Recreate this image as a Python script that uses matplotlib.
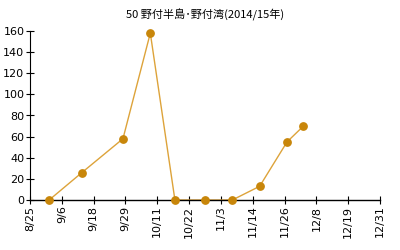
import matplotlib
matplotlib.use("Agg")
import matplotlib.pyplot as plt
import matplotlib.dates as mdates
import numpy as np
import pandas as pd

plt.rcParams['font.family'] = ['Noto Sans CJK JP', 'DejaVu Sans']

title = "50 野付半島･野付湾(2014/15年)"
dates = ["2014-09-01", "2014-09-13", "2014-09-28", "2014-10-08", "2014-10-17",
         "2014-10-28", "2014-11-07", "2014-11-17", "2014-11-27", "2014-12-03"]
values = [0, 26, 58, 158, 0, 0, 0, 13, 55, 70]
xtick_labels = ["8/25", "9/6", "9/18", "9/29", "10/11", "10/22", "11/3",
                "11/14", "11/26", "12/8", "12/19", "12/31"]
yticks = [0, 20, 40, 60, 80, 100, 120, 140, 160]

x = mdates.date2num(pd.to_datetime(dates))
x0 = mdates.date2num(pd.Timestamp("2014-08-25"))
x1 = mdates.date2num(pd.Timestamp("2014-12-31"))

fig = plt.figure(figsize=(4, 2.5), dpi=100)
ax = fig.add_axes([0.075, 0.2, 0.875, 0.676])
ax.plot(x, values, color="#DDA33A", linewidth=1.0, zorder=2)
ax.scatter(x, values, color="#C8860A", s=28, zorder=3, clip_on=False)

ax.set_xlim(x0, x1)
ax.set_ylim(0, 160)
ax.set_xticks(np.linspace(x0, x1, len(xtick_labels)))
ax.set_xticklabels(xtick_labels, rotation=90, fontsize=8, family=['DejaVu Sans'])
ax.set_yticks(yticks)
ax.set_yticklabels([str(v) for v in yticks], fontsize=8, family=['DejaVu Sans'])
ax.tick_params(axis='both', direction='inout', length=6, width=0.8, pad=1, colors='black')
for s in ['top', 'right']:
    ax.spines[s].set_visible(False)
ax.spines['left'].set_linewidth(0.8)
ax.spines['bottom'].set_linewidth(1.0)
ax.set_title(title, fontsize=8, pad=9)

fig.savefig("out.png", dpi=100)
